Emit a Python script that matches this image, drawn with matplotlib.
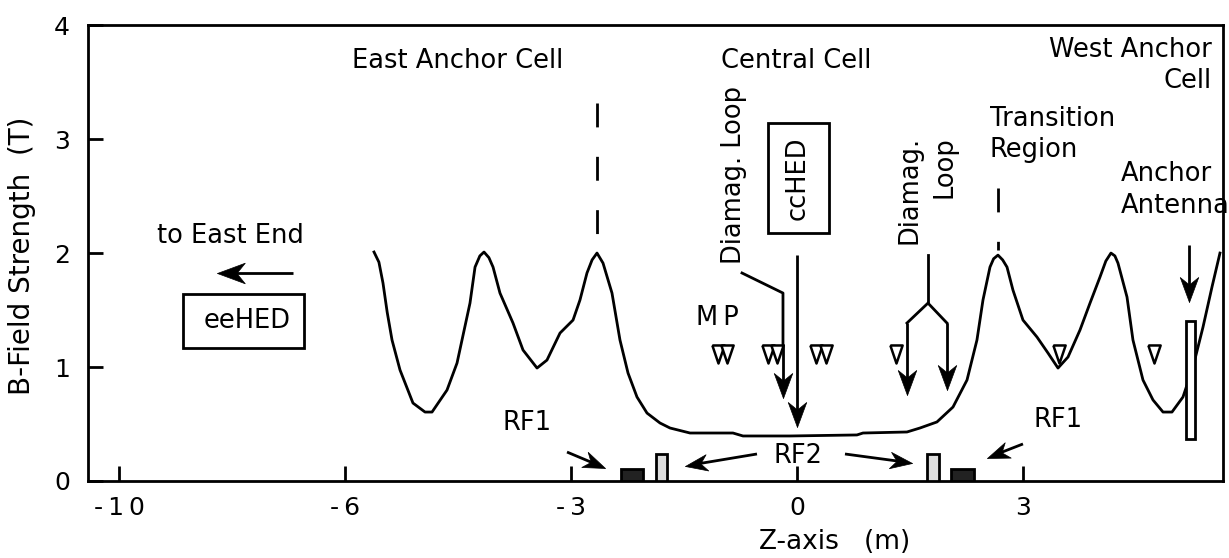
import matplotlib

matplotlib.use("Agg")
import matplotlib.pyplot as plt  # noqa: E402
import numpy as np  # noqa: E402
from matplotlib.markers import MarkerStyle  # noqa: E402
from matplotlib.patches import Rectangle  # noqa: E402
from matplotlib.transforms import Affine2D  # noqa: E402

# on-axis field profile
z_curve = [-5.615, -5.550, -5.496, -5.440, -5.376, -5.270, -5.098, -4.938, -4.845,
           -4.646, -4.513, -4.341, -4.274, -4.210, -4.155, -4.090, -4.035, -3.943,
           -3.770, -3.637, -3.451, -3.319, -3.146, -2.973, -2.881, -2.788, -2.720,
           -2.655, -2.575, -2.456, -2.350, -2.243, -2.124, -1.991, -1.819, -1.686,
           -1.420, -0.850, -0.717, -0.093, 0.796, 0.876, 1.460, 1.633, 1.858,
           2.071, 2.257, 2.389, 2.469, 2.562, 2.610, 2.668, 2.730, 2.788, 2.867,
           3.000, 3.186, 3.332, 3.465, 3.598, 3.757, 3.890, 4.022, 4.100, 4.168,
           4.220, 4.261, 4.381, 4.460, 4.593, 4.726, 4.859, 4.978, 5.124, 5.257,
           5.390, 5.509, 5.615]
b_curve = [2.009, 1.920, 1.737, 1.480, 1.237, 0.974, 0.684, 0.605, 0.605,
           0.798, 1.035, 1.561, 1.877, 1.975, 2.009, 1.960, 1.877, 1.649,
           1.386, 1.149, 0.991, 1.061, 1.298, 1.412, 1.588, 1.825, 1.940,
           2.000, 1.912, 1.649, 1.237, 0.947, 0.737, 0.596, 0.509, 0.465,
           0.421, 0.421, 0.395, 0.395, 0.404, 0.421, 0.430, 0.465, 0.518,
           0.649, 0.886, 1.237, 1.588, 1.877, 1.950, 1.982, 1.940, 1.877, 1.675,
           1.412, 1.263, 1.123, 0.991, 1.088, 1.325, 1.561, 1.789, 1.930, 2.000,
           1.975, 1.912, 1.614, 1.237, 0.886, 0.711, 0.605, 0.605, 0.737, 1.000,
           1.351, 1.702, 2.000]

# magnetic probes (MP)
mp_z = [-1.049, -0.929, -0.385, -0.266, 0.252, 0.385, 1.314, 3.478, 4.739]
mp_b = [1.11, 1.11, 1.11, 1.11, 1.11, 1.11, 1.11, 1.11, 1.11]

# RF antennas: RF1 (dark) and RF2 (light)
rf_z = [-2.336, -1.872, 1.726, 2.044]
rf_width = [0.292, 0.146, 0.159, 0.306]
rf_height = [0.105, 0.237, 0.237, 0.105]
rf_colors = ["#222222", "#dddddd", "#dddddd", "#222222"]

# anchor antenna
ant_z = 5.164
ant_width = 0.119
ant_bottom = 0.368
ant_top = 1.404

# axis ticks (the original axis is not linear at its left end)
x_tick_pos = [-9, -6, -3, 0, 3]
x_tick_labels = ["-\u20091\u20090", "-\u20096", "-\u20093", "0", "3"]
y_ticks = [0, 1, 2, 3, 4]

FS = 18.5
LW = 2.0
HEAD = [(0, 0), (-1, 0.37), (-0.7, 0), (-1, -0.37), (0, 0)]

fig = plt.figure(figsize=(12.29, 5.58), dpi=100)
ax = fig.add_axes([0.0716, 0.138, 0.9235, 0.817])
ax.set_xlim(-9.412, 5.655)
ax.set_ylim(0, 4)


def arrow(tail, head, size=36):
    """Line with a swept-back filled head, head drawn as a rotated marker."""
    t = ax.transData
    p0, p1 = t.transform(tail), t.transform(head)
    d = p1 - p0
    ang = np.arctan2(d[1], d[0])
    head_px = size / 2 * fig.dpi / 72
    back = p1 - d / np.hypot(*d) * head_px * 0.6
    bx, by = t.inverted().transform(back)
    ax.plot([tail[0], bx], [tail[1], by], color="black", lw=LW,
            solid_capstyle="butt")
    ax.plot(head[0], head[1], ls="none", color="black", markersize=size,
            markeredgewidth=0.5,
            marker=MarkerStyle(HEAD, transform=Affine2D().rotate(ang)))


ax.plot(z_curve, b_curve, color="black", lw=LW, zorder=2)

tri = [(-0.34, 0.5), (0.34, 0.5), (0.0, -0.5), (-0.34, 0.5)]
ax.plot(mp_z, mp_b, ls="none", marker=tri, markersize=13,
        markerfacecolor="white", markeredgecolor="black", markeredgewidth=1.8,
        zorder=3)

ax.bar(rf_z, rf_height, width=rf_width, align="edge", color=rf_colors,
       edgecolor="black", linewidth=LW, zorder=3)
ax.bar(ant_z, ant_top - ant_bottom, width=ant_width, bottom=ant_bottom,
       align="edge", color="white", edgecolor="black", linewidth=LW, zorder=3)

# dashed markers above the mirror peaks
ax.plot([-2.655, -2.655], [3.316, 2.05], color="black", lw=LW,
        ls=(0, (8.6, 10.6)))
ax.plot([2.668, 2.668], [2.57, 2.03], color="black", lw=LW,
        ls=(0, (8.6, 10.6)))

# region labels
ax.text(-4.51, 3.62, "East Anchor Cell", fontsize=FS, ha="center", va="baseline")
ax.text(-0.01, 3.62, "Central Cell", fontsize=FS, ha="center", va="baseline")
ax.text(5.509, 3.90, "West Anchor\nCell", fontsize=FS, ha="right", va="top",
        multialignment="right", linespacing=1.25)
ax.text(2.562, 3.29, "Transition\nRegion", fontsize=FS, ha="left", va="top",
        linespacing=1.25)
ax.text(4.30, 2.81, "Anchor\nAntenna", fontsize=FS, ha="left", va="top",
        linespacing=1.3)

# east end
ax.text(-7.527, 2.088, "to East End", fontsize=FS, ha="center", va="baseline")
arrow((-6.69, 1.825), (-7.70, 1.825), size=40)
ax.add_patch(Rectangle((-8.151, 1.167), 1.606, 0.473, fill=False,
                       edgecolor="black", lw=LW))
ax.text(-7.30, 1.404, "eeHED", fontsize=FS, ha="center", va="center")

# central cell diagnostics
ax.add_patch(Rectangle((-0.385, 2.175), 0.81, 0.965, fill=False,
                       edgecolor="black", lw=LW))
ax.text(0.013, 2.66, "ccHED", fontsize=FS, rotation=90, ha="center", va="center")
ax.text(-0.836, 2.684, "Diamag. Loop", fontsize=FS, rotation=90,
        ha="center", va="center")
ax.text(1.726, 2.553, "Diamag.\nLoop", fontsize=FS, rotation=90,
        ha="center", va="center", multialignment="right", linespacing=1.45)

arrow((0.0, 1.982), (0.0, 0.474))
ax.plot([-0.730, -0.186, -0.186], [1.825, 1.649, 1.2], color="black", lw=LW)
arrow((-0.186, 1.2), (-0.186, 0.728))
ax.plot([1.739, 1.739], [1.982, 1.561], color="black", lw=LW)
ax.plot([1.460, 1.739, 1.991], [1.386, 1.561, 1.386], color="black", lw=LW,
        solid_joinstyle="miter")
arrow((1.460, 1.386), (1.460, 0.754))
arrow((1.991, 1.386), (1.991, 0.798))

ax.text(-1.062, 1.368, "M\u2009P", fontsize=FS, ha="center", va="baseline")

# RF labels
ax.text(-3.584, 0.447, "RF1", fontsize=FS, ha="center", va="baseline")
ax.text(3.465, 0.474, "RF1", fontsize=FS, ha="center", va="baseline")
ax.text(0.013, 0.158, "RF2", fontsize=FS, ha="center", va="baseline")
arrow((-3.053, 0.254), (-2.549, 0.114), size=32)
arrow((-0.531, 0.237), (-1.487, 0.132), size=32)
arrow((0.637, 0.237), (1.527, 0.158), size=32)
arrow((3.000, 0.325), (2.522, 0.202), size=32)
arrow((5.204, 2.07), (5.204, 1.570))

ax.set_xticks(x_tick_pos)
ax.set_xticklabels(x_tick_labels)
ax.set_yticks(y_ticks)
for side in ax.spines.values():
    side.set_linewidth(LW)
ax.tick_params(direction="in", length=11, width=LW, labelsize=18)
ax.tick_params(axis="x", pad=11)
ax.tick_params(axis="y", pad=13)

ax.set_xlabel("Z-axis   (m)", fontsize=19)
ax.xaxis.set_label_coords(0.658, -0.105)
ax.set_ylabel("B-Field Strength  (T)", fontsize=20)
ax.yaxis.set_label_coords(-0.046, 0.493)

fig.savefig("out.png", dpi=100)
